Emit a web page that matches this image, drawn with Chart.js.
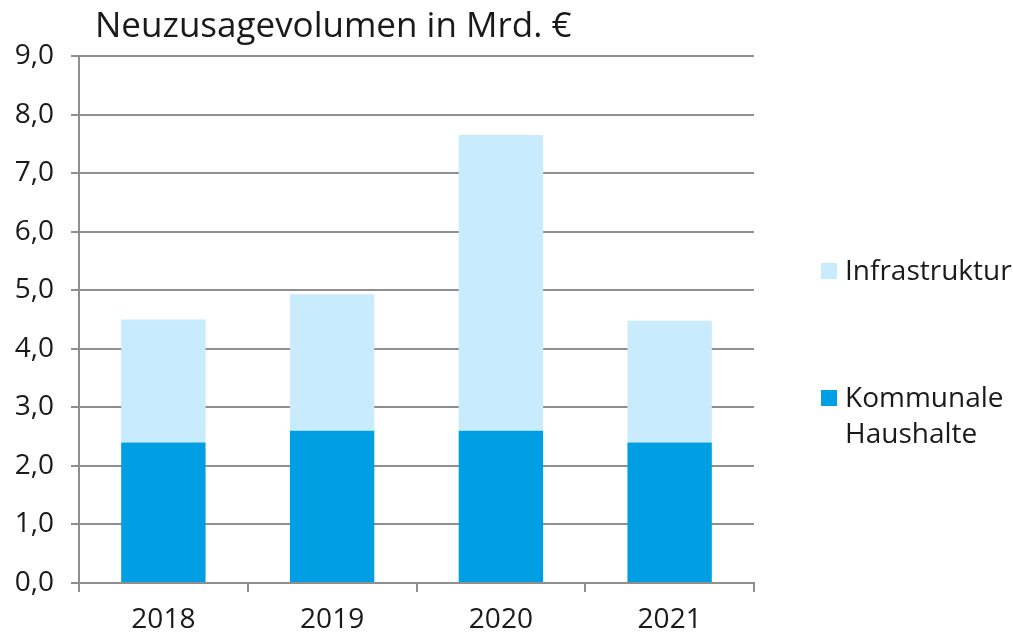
<!DOCTYPE html>
<html>
<head>
<meta charset="utf-8">
<script src="https://cdn.jsdelivr.net/npm/chart.js@4.4.1/dist/chart.umd.min.js"></script>
<style>
  html, body { margin: 0; padding: 0; background: #fff; }
  #wrap { width: 1013px; height: 632px; }
</style>
</head>
<body>
<div id="wrap"><canvas id="volumeChart"></canvas></div>
<script>
// Data
const years = ['2018', '2019', '2020', '2021'];
const kommunale = [2.4, 2.6, 2.6, 2.4];
const infrastruktur = [2.1, 2.33, 5.05, 2.08];
const seriesNames = ['Kommunale Haushalte', 'Infrastruktur'];
const chartTitle = 'Neuzusagevolumen in Mrd. €';

const FONT = '"Open Sans", "Noto Sans", sans-serif';
const TEXT = '#1a1a1a';
const GRID = '#8f8f8f';

// title + legend drawn by hand so they sit where the original has them
const decorations = {
    id: 'decorations',
    afterDraw(chart) {
        const ctx = chart.ctx;
        ctx.save();
        ctx.fillStyle = TEXT;
        ctx.textAlign = 'left';
        ctx.textBaseline = 'alphabetic';
        ctx.font = '35px ' + FONT;
        ctx.fillText(chartTitle, 95, 37);

        ctx.font = '28px ' + FONT;
        const boxX = 821, textX = 845, maxW = 1013 - textX;
        const baselines = [280, 407];
        // legend order: top series first
        const items = chart.data.datasets.slice().reverse();
        items.forEach((ds, i) => {
            const base = baselines[i];
            ctx.fillStyle = ds.backgroundColor;
            ctx.fillRect(boxX, base - 17, 16, 16);
            ctx.fillStyle = TEXT;
            // simple word wrap
            const words = ds.label.split(' ');
            let line = '', y = base;
            words.forEach(w => {
                const test = line ? line + ' ' + w : w;
                if (line && ctx.measureText(test).width > maxW) {
                    ctx.fillText(line, textX, y);
                    line = w;
                    y += 36;
                } else {
                    line = test;
                }
            });
            ctx.fillText(line, textX, y);
        });
        ctx.restore();
    }
};

const ctx = document.getElementById('volumeChart').getContext('2d');
const volumeChart = new Chart(ctx, {
    type: 'bar',
    data: {
        labels: years,
        datasets: [{
            label: seriesNames[0],
            data: kommunale,
            backgroundColor: '#009fe3',
            borderWidth: 0
        }, {
            label: seriesNames[1],
            data: infrastruktur,
            backgroundColor: '#c8ecfd',
            borderWidth: 0
        }]
    },
    options: {
        responsive: true,
        maintainAspectRatio: false,
        animation: false,
        layout: {
            padding: { top: 56, right: 259, bottom: 0, left: 0 }
        },
        plugins: {
            legend: { display: false },
            title: { display: false },
            tooltip: { enabled: false }
        },
        datasets: {
            bar: { categoryPercentage: 1, barPercentage: 0.5 }
        },
        scales: {
            x: {
                stacked: true,
                afterFit: s => { s.height = 49; },
                grid: {
                    offset: true,
                    drawOnChartArea: false,
                    drawTicks: true,
                    tickLength: 9,
                    color: GRID,
                    lineWidth: 2
                },
                border: { color: GRID, width: 2 },
                ticks: {
                    color: TEXT,
                    font: { family: FONT, size: 28 },
                    padding: 11,
                    maxRotation: 0
                }
            },
            y: {
                stacked: true,
                min: 0,
                max: 9,
                afterFit: s => { s.width = 79; },
                grid: {
                    color: GRID,
                    lineWidth: 2,
                    tickLength: 8
                },
                border: { color: GRID, width: 2 },
                ticks: {
                    stepSize: 1,
                    color: TEXT,
                    font: { family: FONT, size: 28 },
                    padding: 17,
                    callback: v => v.toFixed(1).replace('.', ',')
                }
            }
        }
    },
    plugins: [decorations]
});
</script>
</body>
</html>
